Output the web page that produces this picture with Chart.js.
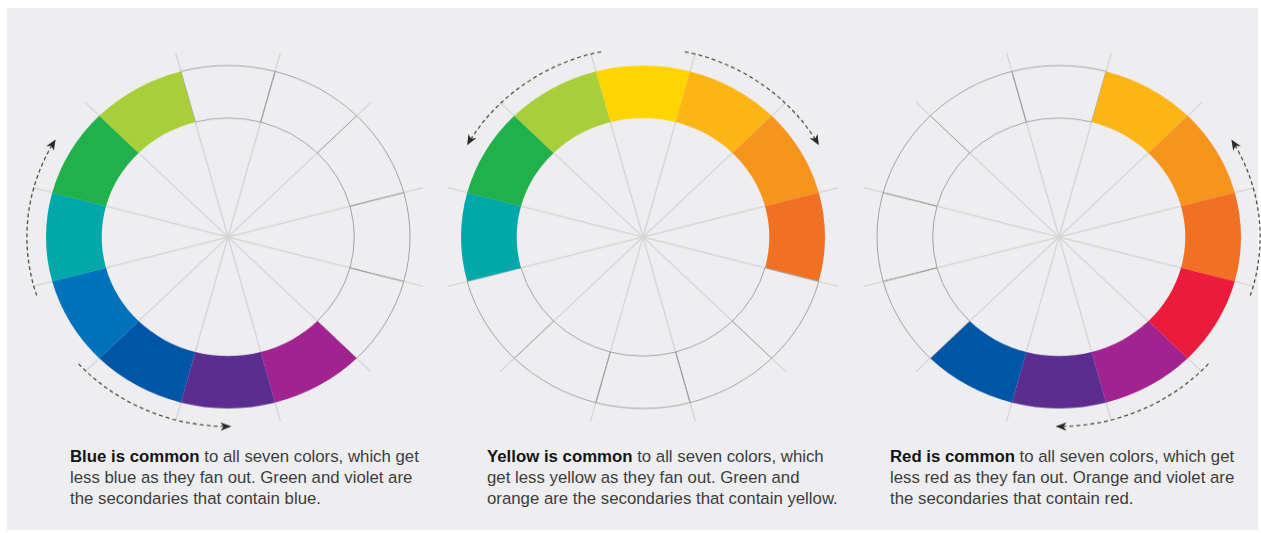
<!DOCTYPE html>
<html lang="en">
<head>
    <meta charset="UTF-8">
    <title>Color wheels - common primaries</title>
    <script src="https://cdn.jsdelivr.net/npm/chart.js"></script>
    <style>
        body {
            margin: 0;
            background: #ffffff;
            font-family: 'Liberation Sans', Arial, sans-serif;
        }

        /* light grey panel behind everything */
        .panel {
            position: absolute;
            left: 7px;
            top: 8px;
            width: 1251px;
            height: 522px;
            background: #eeeef0;
        }

        /* wheels are drawn as circles and squashed a little, like the original */
        .wheel {
            position: absolute;
            top: 17px;
            width: 440px;
            height: 440px;
            transform: scaleY(0.942);
        }

        .caption {
            position: absolute;
            top: 446px;
            font-size: 16.8px;
            line-height: 21px;
            color: #3d3d3d;
            white-space: nowrap;
        }

        .caption b {
            color: #151515;
        }
    </style>
</head>
<body>

<div class="panel"></div>

<div class="wheel" style="left: 8px;"><canvas id="blueWheel"></canvas></div>
<div class="wheel" style="left: 423px;"><canvas id="yellowWheel"></canvas></div>
<div class="wheel" style="left: 839px;"><canvas id="redWheel"></canvas></div>

<div class="caption" style="left: 70px;">
    <b>Blue is common</b> to all seven colors, which get<br>
    less blue as they fan out. Green and violet are<br>
    the secondaries that contain blue.
</div>
<div class="caption" style="left: 487px;">
    <b>Yellow is common</b> to all seven colors, which<br>
    get less yellow as they fan out. Green and<br>
    orange are the secondaries that contain yellow.
</div>
<div class="caption" style="left: 890px;">
    <b>Red is common</b> to all seven colors, which get<br>
    less red as they fan out. Orange and violet are<br>
    the secondaries that contain red.
</div>

<script>
    // 12 hues, clockwise from the top
    const hueNames = ['Yellow', 'Yellow-orange', 'Orange', 'Red-orange', 'Red', 'Red-violet',
                      'Violet', 'Blue-violet', 'Blue', 'Blue-green', 'Green', 'Yellow-green'];
    const hueColors = ['#FFD400', '#FDB515', '#F7941E', '#F27023', '#ED1B3B', '#A2238F',
                       '#5C2D91', '#0056A6', '#0072BC', '#00A8AA', '#21B14B', '#A8CE39'];
    const segmentValues = [1, 1, 1, 1, 1, 1, 1, 1, 1, 1, 1, 1];

    // which hues are coloured in on each wheel (1 = shown)
    const blueShown   = [0, 0, 0, 0, 0, 1, 1, 1, 1, 1, 1, 1];
    const yellowShown = [1, 1, 1, 1, 0, 0, 0, 0, 0, 1, 1, 1];
    const redShown    = [0, 1, 1, 1, 1, 1, 1, 1, 0, 0, 0, 0];

    // the common primary of each wheel (index into hueNames)
    const blueCommon = 8;
    const yellowCommon = 0;
    const redCommon = 4;

    const deg = Math.PI / 180;

    // spokes under the rings + dashed fan-out arrows
    const wheelDecor = {
        id: 'wheelDecor',
        beforeDatasetsDraw(chart) {
            const ctx = chart.ctx;
            const arcs = chart.getDatasetMeta(0).data;
            ctx.save();
            ctx.strokeStyle = '#d4d4d6';
            ctx.lineWidth = 1.3;
            arcs.forEach(arc => {
                const len = arc.outerRadius * 1.11;
                ctx.beginPath();
                ctx.moveTo(arc.x, arc.y);
                ctx.lineTo(arc.x + Math.cos(arc.startAngle) * len, arc.y + Math.sin(arc.startAngle) * len);
                ctx.stroke();
            });
            ctx.restore();
        },
        afterDatasetsDraw(chart, args, opts) {
            const ctx = chart.ctx;
            const arc0 = chart.getDatasetMeta(0).data[0];
            const cx = arc0.x, cy = arc0.y;
            const R = arc0.outerRadius * 1.105;
            const mid = opts.common * 30;

            function fan(dir) {
                const a0 = (mid + dir * 12 - 90) * deg;
                const a1 = (mid + dir * 61 - 90) * deg;
                const stop = a1 - dir * (8 / R);
                ctx.save();
                ctx.strokeStyle = '#4a4a4a';
                ctx.lineWidth = 1.3;
                ctx.setLineDash([4, 3]);
                ctx.beginPath();
                ctx.arc(cx, cy, R, a0, stop, dir < 0);
                ctx.stroke();
                ctx.restore();

                // arrow head along the tangent
                const px = cx + Math.cos(a1) * R, py = cy + Math.sin(a1) * R;
                const tx = -Math.sin(a1) * dir, ty = Math.cos(a1) * dir;
                const nx = -ty, ny = tx;
                ctx.save();
                ctx.fillStyle = '#2a2a2a';
                ctx.beginPath();
                ctx.moveTo(px, py);
                ctx.lineTo(px - tx * 11 + nx * 4.5, py - ty * 11 + ny * 4.5);
                ctx.lineTo(px - tx * 8, py - ty * 8);
                ctx.lineTo(px - tx * 11 - nx * 4.5, py - ty * 11 - ny * 4.5);
                ctx.closePath();
                ctx.fill();
                ctx.restore();
            }
            fan(1);
            fan(-1);
        }
    };

    function makeWheel(id, shown, common) {
        const ctx = document.getElementById(id).getContext('2d');
        return new Chart(ctx, {
            type: 'doughnut',
            data: {
                labels: hueNames,
                datasets: [{
                    data: segmentValues,
                    backgroundColor: shown.map((s, i) => s ? hueColors[i] : 'rgba(0,0,0,0)'),
                    borderColor: shown.map(s => s ? 'rgba(0,0,0,0)' : '#a2a2a4'),
                    borderWidth: shown.map(s => s ? 0 : 1),
                    borderAlign: 'center'
                }]
            },
            options: {
                responsive: true,
                maintainAspectRatio: false,
                animation: false,
                events: [],
                rotation: -15,
                radius: 182,
                cutout: '69.4%',
                layout: { padding: 0 },
                plugins: {
                    legend: { display: false },
                    tooltip: { enabled: false },
                    wheelDecor: { common: common }
                }
            },
            plugins: [wheelDecor]
        });
    }

    makeWheel('blueWheel', blueShown, blueCommon);
    makeWheel('yellowWheel', yellowShown, yellowCommon);
    makeWheel('redWheel', redShown, redCommon);
</script>

</body>
</html>
